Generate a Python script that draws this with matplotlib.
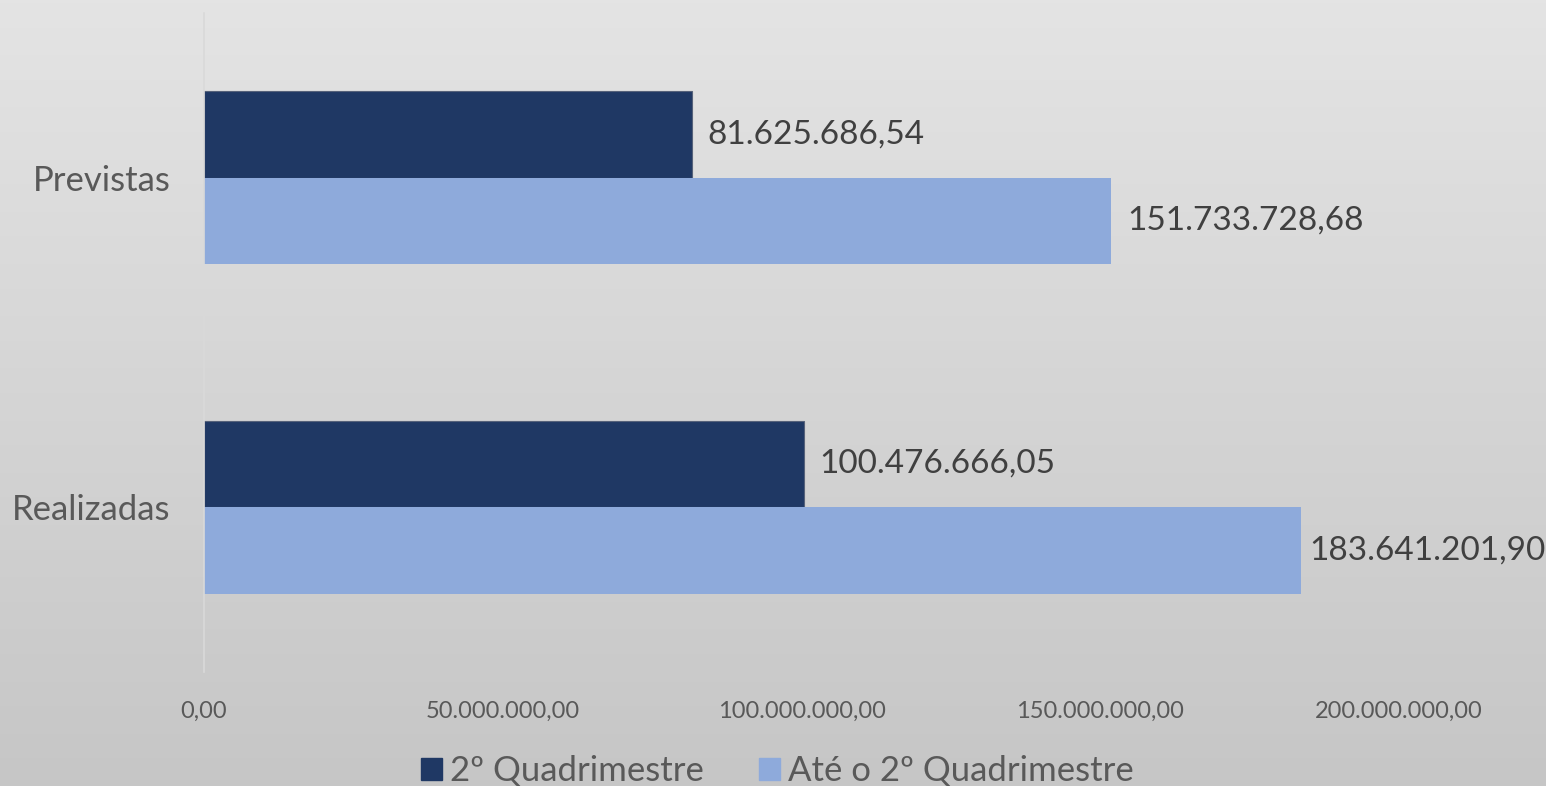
import numpy as np
import matplotlib.pyplot as plt
from matplotlib.patches import Patch

categorias = ['Realizadas', 'Previstas']
quad2 = [100476666.05, 81625686.54]
ate_quad2 = [183641201.90, 151733728.68]
ticks = [0, 50000000, 100000000, 150000000, 200000000]

cor_escura = '#1f3864'
cor_clara = '#8eaadb'

plt.rcParams['font.family'] = ['Lato', 'DejaVu Sans']


def fmt_br(v):
    s = '{:,.2f}'.format(v)
    return s.replace(',', 'X').replace('.', ',').replace('X', '.')


fig = plt.figure(figsize=(15.46, 7.86), dpi=100)

# fundo em degrade
bg = fig.add_axes([0, 0, 1, 1], zorder=-10)
grad = np.linspace(0, 1, 256).reshape(-1, 1)
c_top = np.array([0xe4, 0xe4, 0xe4]) / 255
c_bot = np.array([0xc6, 0xc6, 0xc6]) / 255
img = c_top + grad[..., None] * (c_bot - c_top)
bg.imshow(img, aspect='auto', extent=[0, 1, 0, 1])
bg.axis('off')

ax = fig.add_axes([204 / 1546, 1 - 672 / 786, 1195 / 1546, 659 / 786])
ax.patch.set_alpha(0)

y = np.arange(len(categorias))
h = 0.2625
b1 = ax.barh(y + h / 2, quad2, height=h, color=cor_escura, edgecolor='#56627a', linewidth=0.8,
             label='2º Quadrimestre')
b2 = ax.barh(y - h / 2, ate_quad2, height=h, color=cor_clara, linewidth=0,
             label='Até o 2º Quadrimestre')

lab_kw = dict(fontsize=24, color='#404040')
ax.bar_label(b1, labels=[fmt_br(v) for v in quad2], padding=11, **lab_kw)
# o maior rotulo fica encostado na barra (limite do grafico)
ax.bar_label(b2, labels=[fmt_br(ate_quad2[0]), ''], padding=6, **lab_kw)
ax.bar_label(b2, labels=['', fmt_br(ate_quad2[1])], padding=12, **lab_kw)

ax.set_xlim(0, 200000000)
ax.set_ylim(-0.5, 1.5)
ax.set_xticks(ticks)
ax.set_xticklabels([fmt_br(t) for t in ticks], fontsize=17, color='#595959')
ax.set_yticks(y)
ax.set_yticklabels(categorias, fontsize=25, color='#595959')
ax.tick_params(axis='both', length=0)
ax.tick_params(axis='x', pad=21)
ax.tick_params(axis='y', pad=24)

for s in ['top', 'right', 'bottom']:
    ax.spines[s].set_visible(False)
ax.spines['left'].set_color('#d9d9d9')
ax.spines['left'].set_linewidth(1.2)

handles = [Patch(color=cor_escura, label='2º Quadrimestre'),
           Patch(color=cor_clara, label='Até o 2º Quadrimestre')]
fig.legend(handles=handles, loc='center', bbox_to_anchor=(0.503, 1 - 771 / 786), ncol=2,
           frameon=False, fontsize=25, labelcolor='#595959', handlelength=0.6, handleheight=0.6,
           handletextpad=0.23, columnspacing=1.6, borderaxespad=0)

fig.savefig('out.png', dpi=100)
